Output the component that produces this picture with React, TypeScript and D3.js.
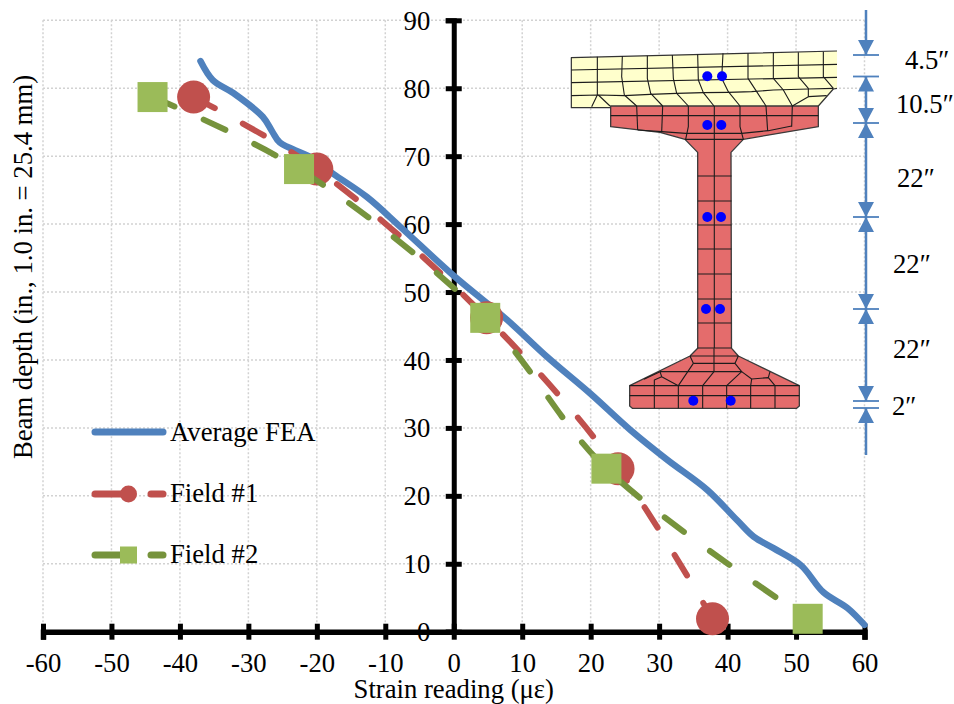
import React, { useEffect, useRef } from "react";
import * as d3 from "d3";

const WIDTH = 954;
const HEIGHT = 704;
const FONT = "'Liberation Serif', 'Times New Roman', serif";
const FONT_SIZE = 26.7;

const BLUE = "#4f81bd";
const RED = "#c0504d";
const GREEN_LINE = "#76933c";
const GREEN_MARK = "#9bbb59";
const DOT = "#0000ff";

const xTicks = [-60, -50, -40, -30, -20, -10, 0, 10, 20, 30, 40, 50, 60];
const yTicks = [0, 10, 20, 30, 40, 50, 60, 70, 80, 90];

// [strain, depth]
const averageFea: [number, number][] = [
  [-37, 84], [-35.2, 81.2], [-32.2, 79.3], [-27.9, 75.8], [-26.5, 73.6], [-25.4, 72], [-21, 69.9],
  [-17.6, 67.4], [-12.7, 64], [-7.8, 59.6], [0, 52.4], [7.8, 45.9], [13.7, 40.4], [19.9, 35.1], [25.8, 29.7],
  [31.2, 25.3], [37, 20.9], [41.4, 16.4], [43.8, 14], [46.7, 12.3], [50.7, 9.8],
  [54, 5.8], [57.5, 3.5], [60, 1],
];
const field1: [number, number][] = [[-38, 78.7], [-20, 68.1], [4.8, 46.2], [24, 24], [37.8, 1.9]];
const field2: [number, number][] = [[-44, 78.7], [-22.6, 68.1], [4.6, 46.2], [22.3, 24], [51.7, 1.9]];

// section drawing: an inset picture, not data. Points are traced at 3x and mapped onto the page.
const upper = (p: number[]) => [565 + p[0] / 3, 45 + p[1] / 3];
const lower = (p: number[]) => [600 + p[0] / 3, 240 + p[1] / 3];
const WEB_L = 697.7;
const WEB_R = 731.5;
const WEB_MID = 714.3;
const webRows = [176, 201, 225, 249, 274, 299, 323];

const deckOutline = [[19, 38], [816, 18], [816, 130], [805, 132], [760, 183], [760, 188], [19, 188]];
const deckEdges = [[[816, 18], [19, 38], [19, 188], [137, 188]], [[816, 130], [805, 132], [760, 183]]];
const deckLines = [
  [[19, 75], [816, 58]], [[19, 113], [816, 97]],
  [[19, 152], [100, 150], [178, 152], [255, 148], [335, 145], [415, 143], [490, 142], [560, 140], [625, 135], [730, 132], [805, 130]],
  [[97, 35], [97, 150], [80, 185]], [[100, 150], [135, 183]],
  [[172, 33], [170, 95], [178, 150], [215, 183]],
  [[247, 32], [247, 100], [257, 145], [293, 183]],
  [[322, 30], [325, 100], [335, 145], [370, 183]],
  [[398, 28], [400, 105], [415, 143], [447, 183]],
  [[474, 25], [470, 100], [490, 140], [525, 183]],
  [[549, 25], [549, 100], [575, 140], [603, 183]],
  [[625, 23], [625, 100], [655, 135], [682, 183]],
  [[700, 22], [700, 95], [730, 130], [730, 155], [682, 183]],
  [[775, 20], [775, 95], [805, 130]],
  [[730, 155], [785, 152]],
];
const flangeLines = [
  [[137, 212], [760, 212]],
  [[215, 183], [218, 255]], [[293, 183], [290, 262]], [[370, 183], [370, 245], [362, 283]],
  [[525, 183], [525, 245], [535, 283]], [[603, 183], [608, 258]], [[682, 183], [680, 245]],
  [[218, 255], [290, 260], [362, 265], [530, 265], [610, 257], [680, 243]],
  [[360, 283], [535, 283]],
];
const topEdge = [[137, 183], [760, 183], [760, 245], [535, 283], [498, 322]];
const topEdgeLeft = [[398, 322], [360, 283], [285, 262], [137, 245]];
const bottomEdge = [[395, 325], [415, 348], [598, 437], [598, 498], [590, 505], [97, 505], [89, 498], [89, 437], [270, 348], [293, 325]];
const bottomLines = [
  [[270, 348], [415, 348]], [[280, 370], [405, 370]], [[342, 325], [342, 395]], [[180, 395], [425, 395]],
  [[270, 348], [280, 370], [235, 437]], [[342, 395], [308, 437]],
  [[415, 348], [405, 370], [425, 395], [380, 437]],
  [[425, 395], [455, 417], [505, 413], [525, 437]], [[505, 413], [510, 395]], [[455, 417], [452, 437]],
  [[180, 395], [185, 410], [235, 437]], [[185, 410], [163, 420], [163, 437]], [[180, 395], [132, 418]],
  [[89, 437], [598, 437]], [[89, 467], [598, 467]],
  [[163, 437], [163, 505]], [[235, 437], [235, 505]], [[308, 437], [308, 505]], [[380, 437], [380, 505]], [[452, 437], [452, 505]], [[525, 437], [525, 505]],
];
const gaugeDots = [[707.3, 76.3], [722, 76.3], [707.3, 125], [721.3, 125], [707.3, 217], [721, 217], [706, 309], [720, 309], [693.3, 400.7], [730.7, 400.7]];

// dimension ladder to the right of the section
const dimTicks = [55, 76.5, 123, 217, 309, 401, 408];
const dimRuns = [[10, 55], [76.5, 401], [408, 455]];
const dimHeads = [[55, -1], [76.5, 1], [123, -1], [123, 1], [217, -1], [217, 1], [309, -1], [309, 1], [401, -1], [408, 1]];
const dimLabels = [
  { text: "4.5″", x: 905, y: 69 },
  { text: "10.5″", x: 896, y: 113 },
  { text: "22″", x: 897, y: 187 },
  { text: "22″", x: 893, y: 273 },
  { text: "22″", x: 893, y: 358 },
  { text: "2″", x: 892, y: 415 },
];

const App = () => {
  const chartRef = useRef<SVGSVGElement | null>(null);

  useEffect(() => {
    if (!chartRef.current) return;
    const svg = d3.select(chartRef.current);
    svg.selectAll("*").remove();

    const x = d3.scaleLinear().domain([-60, 60]).range([43, 864.5]);
    const y = d3.scaleLinear().domain([0, 90]).range([631.7, 20.3]);

    // grid
    const grid = svg.append("g").attr("stroke", "#d2d2d2").attr("stroke-width", 1.5).attr("stroke-dasharray", "2 2");
    xTicks.forEach((t) => {
      grid.append("line").attr("x1", x(t)).attr("x2", x(t)).attr("y1", y(90)).attr("y2", y(0));
    });
    yTicks.forEach((t) => {
      grid.append("line").attr("x1", x(-60)).attr("x2", x(60)).attr("y1", y(t)).attr("y2", y(t));
    });

    // axes, crossing at zero
    const xAxis = svg
      .append("g")
      .attr("transform", `translate(0,${y(0)})`)
      .call(d3.axisBottom(x).tickValues(xTicks).tickSizeOuter(0).tickSize(8).tickFormat((d) => String(d)));
    xAxis.select(".domain").attr("stroke", "#000").attr("stroke-width", 5.5);
    xAxis.selectAll(".tick line").attr("stroke", "#000").attr("stroke-width", 5).attr("y1", -8);
    xAxis.selectAll(".tick text").attr("font-family", FONT).attr("font-size", FONT_SIZE).attr("fill", "#000").attr("y", 40).attr("dy", 0);

    const yAxis = svg
      .append("g")
      .attr("transform", `translate(${x(0)},0)`)
      .call(d3.axisLeft(y).tickValues(yTicks).tickSizeOuter(0).tickSize(8).tickFormat((d) => String(d)));
    yAxis.select(".domain").attr("stroke", "#000").attr("stroke-width", 5);
    yAxis.selectAll(".tick line").attr("stroke", "#000").attr("stroke-width", 5).attr("x2", 8).attr("x1", -8);
    yAxis.selectAll(".tick text").attr("font-family", FONT).attr("font-size", FONT_SIZE).attr("fill", "#000").attr("x", -23.5).attr("dy", "0.34em");

    svg.append("text").attr("x", x(0)).attr("y", 698).attr("text-anchor", "middle").attr("font-family", FONT).attr("font-size", FONT_SIZE).text("Strain reading (με)");
    svg
      .append("text")
      .attr("transform", "translate(32,267) rotate(-90)")
      .attr("text-anchor", "middle")
      .attr("font-family", FONT)
      .attr("font-size", FONT_SIZE)
      .text("Beam depth (in., 1.0 in. = 25.4 mm)");

    // section inset
    const poly = d3.line<number[]>().x((d) => d[0]).y((d) => d[1]);
    const inset = svg.append("g").attr("stroke-linejoin", "round").attr("fill", "none");
    const girderOutline = [
      ...topEdge.map(upper),
      [WEB_R, 348],
      ...bottomEdge.map(lower),
      [WEB_L, 348],
      ...topEdgeLeft.map(upper),
    ];
    inset.append("path").attr("d", poly(deckOutline.map(upper)) + "Z").attr("fill", "#ffffcc");
    inset.append("path").attr("d", poly(girderOutline) + "Z").attr("fill", "#e46c6c").attr("stroke", "#3a3a3a").attr("stroke-width", 1.3);
    deckEdges.forEach((pts) => {
      inset.append("path").attr("d", poly(pts.map(upper))).attr("stroke", "#333").attr("stroke-width", 1.2);
    });
    const meshPaths = [
      ...deckLines.map((l) => l.map(upper)),
      ...flangeLines.map((l) => l.map(upper)),
      ...bottomLines.map((l) => l.map(lower)),
      ...webRows.map((r) => [[WEB_L, r], [WEB_R, r]]),
      [[WEB_MID, 106], [WEB_MID, 348]],
      [[WEB_L, 348], [WEB_R, 348]],
    ];
    meshPaths.forEach((pts) => {
      inset.append("path").attr("d", poly(pts)).attr("stroke", "#1c1c1c").attr("stroke-width", 1.1);
    });
    gaugeDots.forEach((d) => {
      inset.append("circle").attr("cx", d[0]).attr("cy", d[1]).attr("r", 5).attr("fill", DOT);
    });

    // dimension ladder
    const dim = svg.append("g").attr("stroke", BLUE).attr("fill", BLUE);
    const dimX = 866;
    dimRuns.forEach((r) => {
      dim.append("line").attr("x1", dimX).attr("x2", dimX).attr("y1", r[0]).attr("y2", r[1]).attr("stroke-width", 2.5);
    });
    dimTicks.forEach((t) => {
      dim.append("line").attr("x1", dimX - 13).attr("x2", dimX + 13).attr("y1", t).attr("y2", t).attr("stroke-width", 1.8);
    });
    dimHeads.forEach(([tip, dir]) => {
      dim
        .append("path")
        .attr("stroke", "none")
        .attr("d", poly([[dimX, tip], [dimX - 8, tip + dir * 15], [dimX + 8, tip + dir * 15]]) + "Z");
    });
    dimLabels.forEach((l) => {
      svg.append("text").attr("x", l.x).attr("y", l.y).attr("font-family", FONT).attr("font-size", FONT_SIZE).text(l.text);
    });

    // series
    const curve = d3.line<[number, number]>().x((d) => x(d[0])).y((d) => y(d[1])).curve(d3.curveCatmullRom.alpha(0.5));
    const drawDashed = (data: [number, number][], color: string) => {
      svg
        .append("path")
        .attr("d", curve(data))
        .attr("fill", "none")
        .attr("stroke", color)
        .attr("stroke-width", 6)
        .attr("stroke-linecap", "round")
        .attr("stroke-dasharray", "24 32");
    };

    svg
      .append("path")
      .attr("d", curve(averageFea))
      .attr("fill", "none")
      .attr("stroke", BLUE)
      .attr("stroke-width", 6.5)
      .attr("stroke-linecap", "round");

    drawDashed(field1, RED);
    field1.forEach((d) => {
      svg.append("circle").attr("cx", x(d[0])).attr("cy", y(d[1])).attr("r", 16.5).attr("fill", RED);
    });
    drawDashed(field2, GREEN_LINE);
    field2.forEach((d) => {
      svg.append("rect").attr("x", x(d[0]) - 15).attr("y", y(d[1]) - 15).attr("width", 30).attr("height", 30).attr("fill", GREEN_MARK);
    });

    // legend
    const legend = svg.append("g").attr("stroke-linecap", "round").attr("stroke-width", 7);
    legend.append("line").attr("x1", 95).attr("x2", 163).attr("y1", 432).attr("y2", 432).attr("stroke", BLUE);
    legend.append("line").attr("x1", 95).attr("x2", 128).attr("y1", 494).attr("y2", 494).attr("stroke", RED);
    legend.append("line").attr("x1", 151).attr("x2", 163).attr("y1", 494).attr("y2", 494).attr("stroke", RED);
    legend.append("circle").attr("cx", 128.5).attr("cy", 494).attr("r", 8.5).attr("fill", RED).attr("stroke", "none");
    legend.append("line").attr("x1", 95).attr("x2", 128).attr("y1", 555).attr("y2", 555).attr("stroke", GREEN_LINE);
    legend.append("line").attr("x1", 151).attr("x2", 163).attr("y1", 555).attr("y2", 555).attr("stroke", GREEN_LINE);
    legend.append("rect").attr("x", 120).attr("y", 546.5).attr("width", 17).attr("height", 17).attr("fill", GREEN_MARK).attr("stroke", "none");

    [
      { text: "Average FEA", y: 441 },
      { text: "Field #1", y: 502 },
      { text: "Field #2", y: 563 },
    ].forEach((l) => {
      svg.append("text").attr("x", 170).attr("y", l.y).attr("font-family", FONT).attr("font-size", FONT_SIZE).text(l.text);
    });
  }, []);

  return (
    <svg
      ref={chartRef}
      width={WIDTH}
      height={HEIGHT}
      style={{ position: "absolute", left: 0, top: 0, background: "#fff" }}
    ></svg>
  );
};

export default App;
